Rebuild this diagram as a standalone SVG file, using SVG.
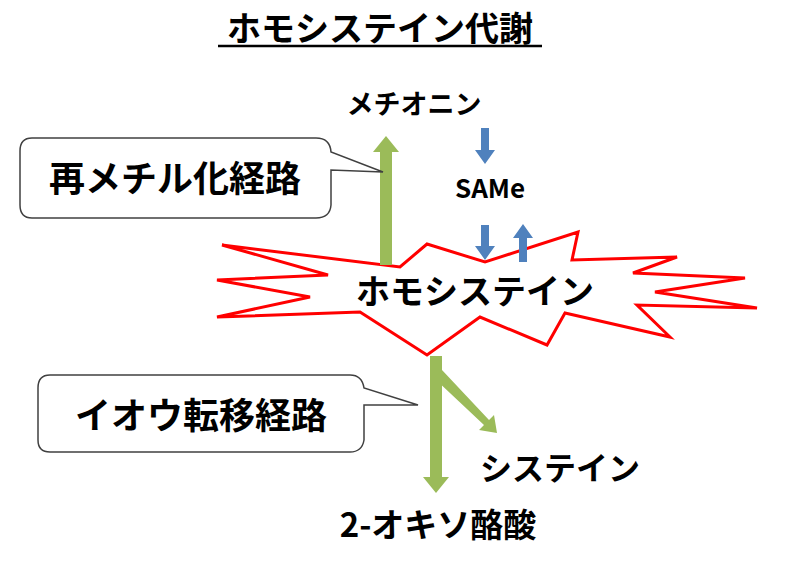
<svg xmlns="http://www.w3.org/2000/svg" width="790" height="562" viewBox="0 0 790 562">
<style>
text{font-family:"Noto Sans CJK JP","Liberation Sans",sans-serif;font-weight:bold;fill:#000;text-anchor:middle}
.g{fill:#9bbb59}.b{fill:#4f81bd}
.call{fill:#fff;stroke:#404040;stroke-width:1.5}
</style>
<rect width="790" height="562" fill="#fff"/>
<g id="title"><text x="380" y="41" font-size="34">ホモシステイン代謝</text><line x1="218" y1="46" x2="542" y2="46" stroke="#000" stroke-width="2.5"/></g>
<g id="homocysteine">
<polygon points="222,245 400,267 427,244 485,262 578,232 572,260 677,257 633,273 745,278 655,292 757,308 637,305 670,337 565,313 547,345 480,317 427,355 360,312 217,317 310,297 217,280 328,275" fill="#fff" stroke="#ff0000" stroke-width="3" stroke-linejoin="miter"/>
<text x="475" y="304" font-size="34" font-weight="normal">ホモシステイン</text></g>
<g id="connectors">
<polygon class="g" points="380,265 392,265 392,152 399,152 386,136 373,152 380,152"/>
<polygon class="g" points="430,356 442,356 442,477 449,477 436,493 423,477 430,477"/>
<polygon class="g" points="442,370 434,378 484,425 479,430 497,433 494,415 489,420"/>
<polygon class="b" points="481,128 489,128 489,150 495,150 485,164 475,150 481,150"/>
<polygon class="b" points="481,225 489,225 489,246 495,246 485,260 475,246 481,246"/>
<polygon class="b" points="519,262 527,262 527,238 533,238 523,224 513,238 519,238"/>
</g>
<g id="methionine"><text x="414" y="114" font-size="27">メチオニン</text></g>
<g id="same"><text x="490" y="198" font-size="26" font-family="Liberation Sans,sans-serif">SAMe</text></g>
<g id="cysteine"><text x="560" y="480" font-size="32">システイン</text></g>
<g id="oxobutyrate"><text x="438" y="537" font-size="33">2-オキソ酪酸</text></g>
<g id="remethylation">
<path class="call" d="M32,138 H316 Q330,138 331,152 L383,172 L331,170 V205 Q330,218 316,218 H32 Q20,218 20,205 V151 Q20,138 32,138 Z"/>
<text x="175" y="192" font-size="36">再メチル化経路</text></g>
<g id="transsulfuration">
<path class="call" d="M50,375 H350 Q362,375 364,388 L418,405 L364,405 V440 Q362,452 350,452 H50 Q38,452 38,440 V388 Q38,375 50,375 Z"/>
<text x="201" y="429" font-size="36">イオウ転移経路</text></g>
</svg>
